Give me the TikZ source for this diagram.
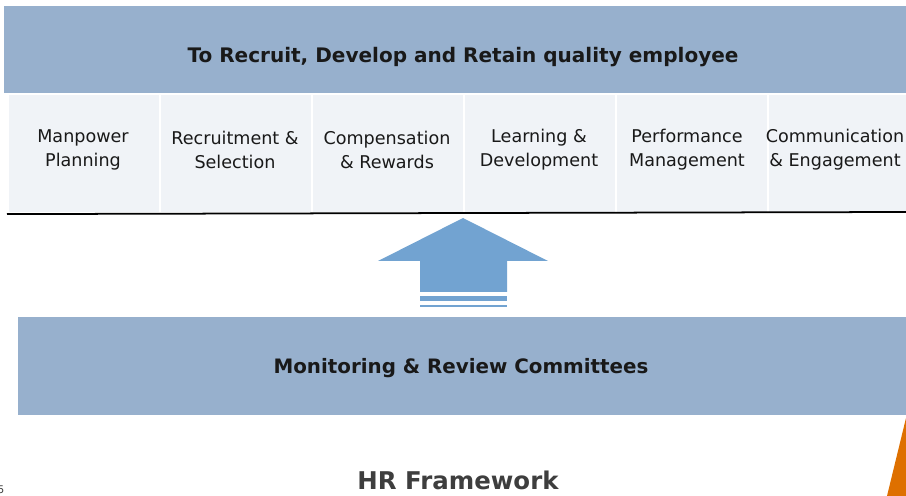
\documentclass[tikz,border=0pt]{standalone}
\usepackage{fontspec}
\setmainfont{DejaVu Sans}
\usetikzlibrary{positioning}
\definecolor{band}{RGB}{151,176,205}
\definecolor{pale}{RGB}{240,243,247}
\definecolor{sky}{RGB}{114,163,209}
\definecolor{rust}{RGB}{222,112,0}
\definecolor{ink}{RGB}{25,25,25}
\definecolor{slate}{RGB}{62,62,62}
\tikzset{
  banner/.style={fill=band,inner sep=0pt,anchor=north west},
  cell/.style={fill=pale,draw=white,line width=1.2pt,inner sep=0pt,anchor=north west,
    minimum width=3.04cm,minimum height=2.38cm},
  celltext/.style={align=center,text=ink,font=\fontsize{10}{13.6}\selectfont},
  headline/.style={text=ink,font=\fontsize{11.3}{13}\selectfont\bfseries},
}

\begin{document}
\begin{tikzpicture}[x=0.02cm,y=-0.02cm]
  \useasboundingbox (0,0) rectangle (906,496);
  % goal band
  \node[banner,minimum width=18.04cm,minimum height=1.74cm] (goal) at (4,6) {};
  \node[headline,font=\fontsize{11.4}{13}\selectfont\bfseries] (title) at (463,57) {To Recruit, Develop and Retain quality employee};
  % HR functions
  \foreach \t/\x [count=\i from 0] in {Manpower\\Planning/83,Recruitment \&\\Selection/235,
    Compensation\\\& Rewards/387,Learning \&\\Development/539,
    Performance\\Management/687,Communication\\\& Engagement/835}{
    \node[cell] (c\i) at (7+\i*152,93) {};
    \node[celltext] (t\i) at (\x,150) {\t};
  }
  \draw[line width=1pt,black] (c0.south west) -- (906,212);
  % support arrow
  \fill[sky] (463,218) -- (548,261) -- (507,261) -- (507,292) -- (420,292) -- (420,261) -- (378,261) -- cycle;
  \fill[sky] (420,296) rectangle (507,301);
  \fill[sky] (420,305) rectangle (507,307);
  % committees band
  \node[banner,minimum width=17.76cm,minimum height=1.96cm] (review) at (18,317) {};
  \node[headline] (rtext) at (461,368) {Monitoring \& Review Committees};
  % caption
  \node[text=slate,font=\fontsize{13.9}{17}\selectfont\bfseries] (caption) at (458,480) {HR Framework};
  \node[text=slate,font=\fontsize{6}{7}\selectfont] (pagenum) at (1,490) {5};
  \fill[rust] (906,418) -- (887,496) -- (906,496) -- cycle;
\end{tikzpicture}
\end{document}
